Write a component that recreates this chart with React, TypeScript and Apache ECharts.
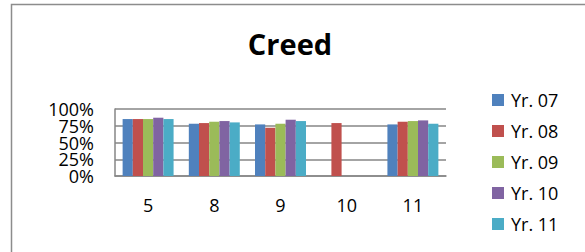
import React, { useEffect, useRef } from "react";
import * as echarts from "echarts";

const categories = ["5", "8", "9", "10", "11"];
const seriesNames = ["Yr. 07", "Yr. 08", "Yr. 09", "Yr. 10", "Yr. 11"];
const yr07 = [85, 78, 77, null, 77];
const yr08 = [85, 79, 72, 79, 81];
const yr09 = [85, 81, 78, null, 82];
const yr10 = [87, 82, 84, null, 83];
const yr11 = [85, 80, 82, null, 78];
const seriesValues = [yr07, yr08, yr09, yr10, yr11];
const colors = ["#4F81BD", "#C0504D", "#9BBB59", "#8064A2", "#4BACC6"];
const yTicksA = [0, 50, 100];
const yTicksB = [25, 75];

const FONT = "'Open Sans', 'Noto Sans', sans-serif";

const labelBase = {
  fontFamily: FONT,
  fontSize: 18,
  color: "#000",
  margin: 21,
  showMinLabel: true,
  showMaxLabel: true,
  hideOverlap: false,
};

export default function App() {
  const ref = useRef<HTMLDivElement>(null);
  useEffect(() => {
    if (!ref.current) return;
    const chart = echarts.init(ref.current, null, { renderer: "svg" });
    chart.setOption({
      animation: false,
      backgroundColor: "#ffffff",
      title: {
        text: "Creed",
        left: 285,
        top: 24,
        textAlign: "center",
        textStyle: { fontFamily: FONT, fontSize: 29, fontWeight: "bold", color: "#000" },
      },
      legend: {
        orient: "vertical",
        left: 487,
        top: 85,
        itemWidth: 12,
        itemHeight: 12,
        itemGap: 11,
        icon: "rect",
        data: seriesNames,
        textStyle: { fontFamily: FONT, fontSize: 18, color: "#000", lineHeight: 20, padding: [0, 0, 0, 2] },
      },
      grid: { left: 115, right: 139, top: 109, bottom: 76, containLabel: false },
      xAxis: {
        type: "category",
        data: categories,
        axisTick: { show: false },
        axisLine: { show: true, lineStyle: { color: "#868686", width: 1.5 } },
        axisLabel: { fontFamily: FONT, fontSize: 18, color: "#000", margin: 20 },
      },
      yAxis: [
        {
          type: "value",
          position: "left",
          min: 0,
          max: 100,
          interval: 25,
          axisLine: { show: true, lineStyle: { color: "#868686", width: 1.5 } },
          axisTick: { show: false },
          splitLine: { show: true, lineStyle: { color: "#868686", width: 1.5 } },
          axisLabel: {
            ...labelBase,
            formatter: (v: number) => (yTicksA.includes(v) ? v + "%" : ""),
          },
        },
        {
          type: "value",
          position: "left",
          offset: 0,
          min: 0,
          max: 100,
          interval: 25,
          axisLine: { show: false },
          axisTick: { show: false },
          splitLine: { show: false },
          axisLabel: {
            ...labelBase,
            formatter: (v: number) => (yTicksB.includes(v) ? v + "%" : ""),
          },
        },
      ],
      series: seriesNames.map((name, i) => ({
        name,
        type: "bar",
        yAxisIndex: 0,
        data: seriesValues[i],
        barGap: "0%",
        barCategoryGap: "23%",
        itemStyle: { color: colors[i] },
      })),
      graphic: [
        {
          type: "rect",
          shape: { x: 11.5, y: 4.5, width: 700, height: 400 },
          style: { fill: "none", stroke: "#8c8c8c", lineWidth: 1.5 },
          silent: true,
          z: 100,
        },
      ],
    });
    return () => chart.dispose();
  }, []);
  return (
    <div
      ref={ref}
      style={{ position: "fixed", left: 0, top: 0, width: 585, height: 252 }}
    />
  );
}
